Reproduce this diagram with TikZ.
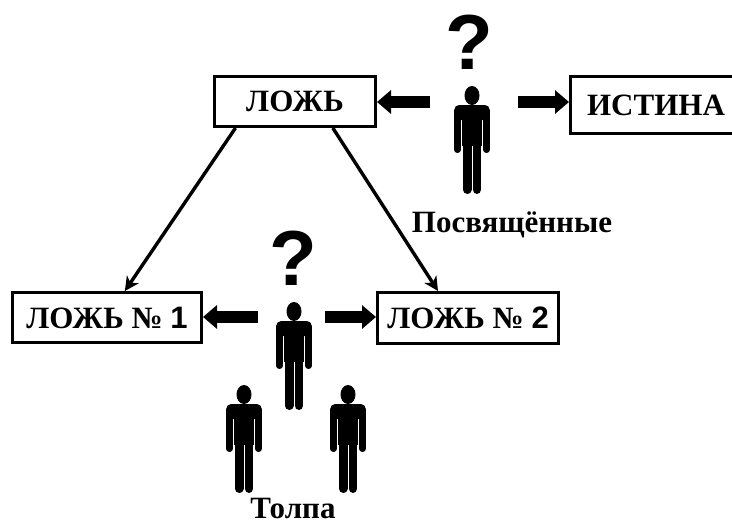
\documentclass[tikz,border=0pt]{standalone}
\usepackage{fontspec}
\setmainfont{Liberation Serif}
\newfontfamily\arialf{Liberation Sans}
\usetikzlibrary{arrows.meta,calc}
\tikzset{
  x=1pt,y=-1pt,
  box/.style={draw=black,line width=3pt,fill=white,inner sep=0pt,font=\fontsize{31}{34}\bfseries\selectfont,text=black},
  caption/.style={inner sep=0pt,anchor=base,font=\fontsize{31}{34}\bfseries\selectfont},
  query/.style={inner sep=0pt,anchor=base,font=\fontsize{78}{80}\arialf\bfseries\selectfont},
  blockarrow/.style={line width=12pt,-{Triangle[length=14pt,width=23pt]}},
  thinarrow/.style={line width=3.4pt,-{Stealth[length=14pt,width=14pt,inset=4pt]}},
  person/.pic={
    \fill (0,9.5) ellipse[x radius=7.5,y radius=9.5];
    \fill[rounded corners=5pt] (-17.8,19) rectangle (17.8,34);
    \fill (-9.7,25) rectangle (9.7,60);
    \draw[line width=6.6pt,line cap=round] (-14.5,25) -- (-14.5,63.7);
    \draw[line width=6.6pt,line cap=round] (14.5,25) -- (14.5,63.7);
    \draw[line width=8.8pt,line cap=round] (-4.9,50) -- (-4.9,103.6);
    \draw[line width=8.8pt,line cap=round] (4.9,50) -- (4.9,103.6);
  }
}
\begin{document}
\begin{tikzpicture}
\useasboundingbox (0,0) rectangle (732,525);
\clip (0,0) rectangle (732,525);
\node[box,minimum width=171pt,minimum height=57pt] (truth) at (656,105) {ИСТИНА};
\node[box,minimum width=161pt,minimum height=50pt] (lie) at (295,101.5) {ЛОЖЬ};
\node[box,minimum width=189pt,minimum height=50pt] (lieA) at (107,317.5) {ЛОЖЬ № {\arialf 1}};
\node[box,minimum width=181pt,minimum height=51pt] (lieB) at (468,318) {ЛОЖЬ № {\arialf 2}};
\pic (initiate) at (472,86) {person};
\pic (leader) at (294,302) {person};
\pic (crowdA) at (244,385) {person};
\pic (crowdB) at (348,385) {person};
\node[query] (qA) at (469,69.5) {?};
\node[query] (qB) at (293,285.5) {?};
\node[caption] (initiates) at (512,232) {Посвящённые};
\node[caption] (crowd) at (293,518) {Толпа};
\coordinate (fromTL) at (430,102);
\coordinate (fromTR) at (518,102);
\coordinate (fromML) at (258,317);
\coordinate (fromMR) at (325,317);
\draw[blockarrow] (fromTL) -- (lie.east |- fromTL);
\draw[blockarrow] (fromTR) -- (truth.west |- fromTR);
\draw[blockarrow] (fromML) -- (lieA.east |- fromML);
\draw[blockarrow] (fromMR) -- (lieB.west |- fromMR);
\draw[thinarrow] (lie.-156) -- (lieA.56);
\draw[thinarrow] (lie.-35) -- (lieB.138);
\end{tikzpicture}
\end{document}
